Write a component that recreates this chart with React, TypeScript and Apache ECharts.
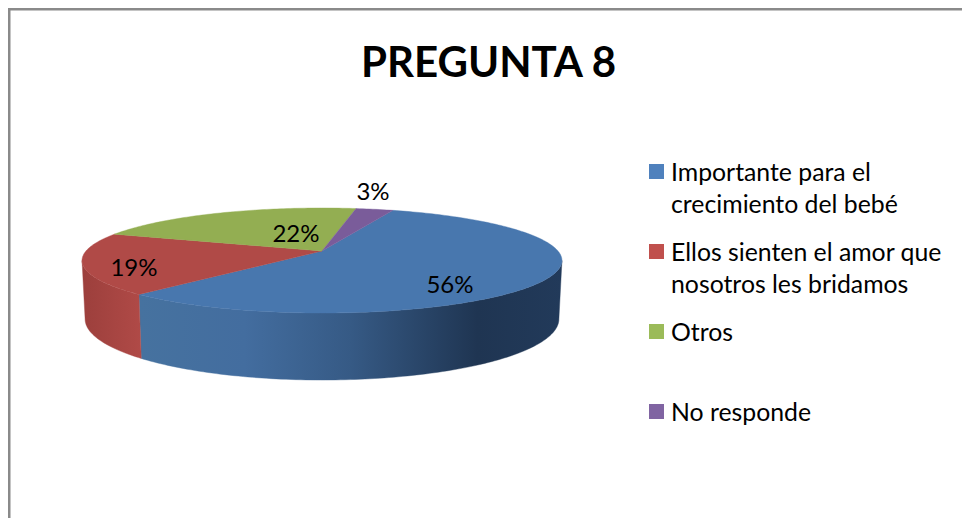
import React, { useEffect, useRef } from "react";
import * as echarts from "echarts";

const titleText = "PREGUNTA 8";
const categories = [
  "Importante para el\ncrecimiento del bebé",
  "Ellos sienten el amor que\nnosotros les bridamos",
  "Otros",
  "No responde",
];
const values = [56, 19, 22, 3];
const labels = ["56%", "19%", "22%", "3%"];

const legendColors = ["#4f81bd", "#c0504d", "#9bbb59", "#8064a2"];
const topColors = ["#4877ae", "#b04a47", "#93ae52", "#7a5c9a"];
const FONT = "Lato, Carlito, Calibri, sans-serif";

// perspective disc model
const CX = 322;
const K = 0.181;
const TOP = { rx: 236, ry: 50.8, y: 251 };
const BOT = { rx: 233, ry: 59, y: 308 };
const START = 69.4;
const SIL = (Math.asin(K) * 180) / Math.PI;
const VIS_HI = -SIL;
const VIS_LO = -180 + SIL;

const project = (d: { rx: number; ry: number; y: number }, deg: number): number[] => {
  const t = (deg * Math.PI) / 180;
  const w = 1 + K * Math.sin(t);
  return [CX + (d.rx * Math.cos(t)) / w, d.y - (d.ry * Math.sin(t)) / w];
};
const arc = (d: { rx: number; ry: number; y: number }, from: number, to: number): number[][] => {
  const n = Math.max(2, Math.ceil(Math.abs(from - to)));
  const out: number[][] = [];
  for (let i = 0; i <= n; i++) out.push(project(d, from + ((to - from) * i) / n));
  return out;
};

const total = values.reduce((a, b) => a + b, 0);
const spans = values.map((_, i) => {
  const before = values.slice(0, i).reduce((a, b) => a + b, 0);
  return [START - (before / total) * 360, START - ((before + values[i]) / total) * 360];
});

const wallFills = [
  new echarts.graphic.LinearGradient(0, 0, 1, 0, [
    { offset: 0, color: "#46729f" },
    { offset: 0.25, color: "#436d9f" },
    { offset: 0.5, color: "#365a85" },
    { offset: 0.8, color: "#1f3552" },
    { offset: 1, color: "#223a5a" },
  ]),
  new echarts.graphic.LinearGradient(0, 0, 1, 0, [
    { offset: 0, color: "#9c3f3c" },
    { offset: 1, color: "#b04a47" },
  ]),
  "#7d9446",
  "#654a80",
];

const labelAt = [
  [450, 283],
  [134, 266],
  [296, 232],
  [373, 190],
];
const legendY = [171, 251, 331, 411];
const swatchY = [164, 244, 324, 404];

const renderItem = (params: any) => {
  const i = params.dataIndex;
  const [s, e] = spans[i];
  const children: any[] = [];
  const hi = Math.min(s, VIS_HI);
  const lo = Math.max(e, VIS_LO);
  if (hi > lo) {
    children.push({
      type: "polygon",
      z2: 1,
      shape: { points: [...arc(TOP, hi, lo), ...arc(BOT, lo, hi)] },
      style: { fill: wallFills[i], stroke: wallFills[i], lineWidth: 0.4 },
    });
  }
  children.push({
    type: "polygon",
    z2: 2,
    shape: { points: [[CX, TOP.y], ...arc(TOP, s, e)] },
    style: { fill: topColors[i], stroke: topColors[i], lineWidth: 0.4 },
  });
  children.push({
    type: "text",
    z2: 5,
    style: {
      text: labels[i],
      x: labelAt[i][0],
      y: labelAt[i][1],
      align: "center",
      verticalAlign: "middle",
      fontFamily: FONT,
      fontSize: 24,
      fill: "#000000",
    },
  });
  return { type: "group", children };
};

export default function App() {
  const ref = useRef<HTMLDivElement>(null);
  useEffect(() => {
    const chart = echarts.init(ref.current!, undefined, { renderer: "svg" });
    const legendGraphics: any[] = [];
    categories.forEach((c, i) => {
      legendGraphics.push({
        type: "rect",
        shape: { x: 649, y: swatchY[i], width: 15, height: 15 },
        style: { fill: legendColors[i] },
      });
      c.split("\n").forEach((line, j) => {
        legendGraphics.push({
          type: "text",
          style: {
            text: line,
            x: 671,
            y: legendY[i] + j * 32,
            verticalAlign: "middle",
            fontFamily: FONT,
            fontSize: 24.8,
            fill: "#000000",
          },
        });
      });
    });
    chart.setOption({
      animation: false,
      backgroundColor: "#ffffff",
      title: {
        text: titleText,
        left: 483.5,
        top: 35,
        textAlign: "center",
        textStyle: { fontFamily: FONT, fontWeight: "bold", fontSize: 42, color: "#000000" },
      },
      graphic: [
        {
          type: "polyline",
          shape: { points: [[9.25, 518], [9.25, 9.25], [962, 9.25]] },
          style: { stroke: "#8a8a8a", lineWidth: 2.5, fill: "none" },
        },
        ...legendGraphics,
      ],
      series: [
        {
          type: "custom",
          coordinateSystem: "none",
          silent: true,
          renderItem,
          data: values.map((v, i) => ({ name: categories[i], value: v })),
        },
      ],
    });
    return () => chart.dispose();
  }, []);
  return <div ref={ref} style={{ position: "fixed", left: 0, top: 0, width: 962, height: 518 }} />;
}
